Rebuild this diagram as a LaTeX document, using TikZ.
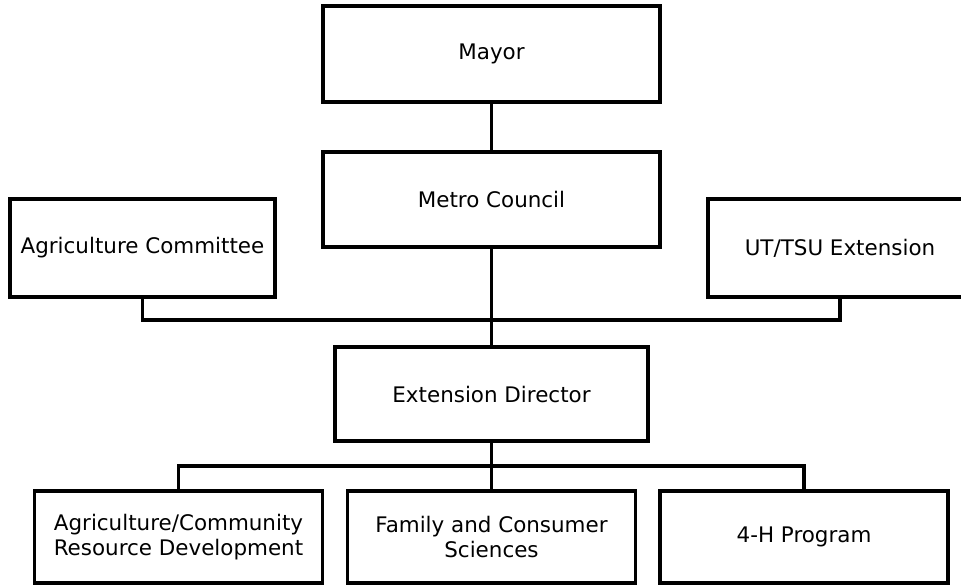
\documentclass[tikz,border=0pt]{standalone}
\usepackage{fontspec}
\setmainfont{DejaVu Sans}
\usepackage{tikz}
\usetikzlibrary{positioning,calc}
\tikzset{
    orgbox/.style={
        draw=black,
        fill=white,
        rectangle,
        align=center,
        line width=2pt,
        inner sep=2pt,
        font=\fontsize{12.2}{14.4}\selectfont
    },
    wide/.style={orgbox, minimum width=6.74cm, minimum height=1.92cm},
    side/.style={orgbox, minimum width=5.3cm, minimum height=1.96cm},
    unit/.style={orgbox, minimum width=5.76cm, minimum height=1.84cm},
    link/.style={
        line width=2pt,
        color=black
    }
}

\begin{document}
\begin{tikzpicture}[x=0.02cm, y=-0.02cm]
    \useasboundingbox (0,0) rectangle (961,586);
    \clip (0,0) rectangle (961,586);

    % Top of the chain
    \node[wide] (mayor) at (491.5,54) {Mayor};
    \node[wide, minimum height=1.9cm] (council) at (491.5,199.5) {Metro Council};

    % Side bodies
    \node[side] (agcomm) at (142.5,248) {Agriculture Committee};
    \node[side, minimum width=5.28cm] (utext) at (840,248) {UT/TSU Extension};

    % Director
    \node[orgbox, minimum width=6.26cm, minimum height=1.88cm] (director) at (491.5,394) {Extension Director};

    % Program areas
    \node[unit] (acrd) at (178.5,537) {Agriculture/Community\\Resource Development};
    \node[unit] (fcs) at (491.5,537) {Family and Consumer\\Sciences};
    \node[unit] (fourh) at (804,537) {4-H Program};

    % Bus points
    \coordinate (busup) at (491.5,320);
    \coordinate (buslow) at (491.5,466);

    % Connectors
    \draw[link] (mayor) -- (council);
    \draw[link] (council) -- (director);
    \draw[link] (agcomm) |- (busup) -| (utext);
    \draw[link] (director) -- (fcs);
    \draw[link] (acrd) |- (buslow) -| (fourh);
\end{tikzpicture}
\end{document}
